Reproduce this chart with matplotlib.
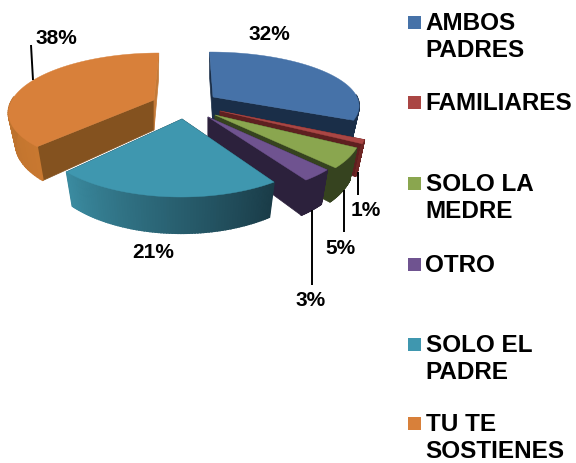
import numpy as np
import matplotlib
matplotlib.use("Agg")
import matplotlib.pyplot as plt
from matplotlib.patches import Polygon, Rectangle
from matplotlib.colors import to_rgb

plt.rcParams['font.family'] = ['Liberation Sans', 'DejaVu Sans']

# --- data ---
categories = ["AMBOS\nPADRES", "FAMILIARES", "SOLO LA\nMEDRE", "OTRO", "SOLO EL\nPADRE", "TU TE\nSOSTIENES"]
values = [32, 1, 5, 3, 21, 38]

# --- style ---
top_colors = ["#4672A8", "#AA4644", "#8AA64F", "#6F5390", "#3F97AF", "#D8803A"]
radial_start = ["#1A2E48", "#5E2020", "#36431F", "#2C213C", "#1A3C48", "#84521F"]
radial_end = ["#1A2E48", "#5E2020", "#36431F", "#2C213C", "#1A3C48", "#C47A38"]
outer_start = ["#1A2E48", "#6E2624", "#36431F", "#2C213C", "#1A3C48", "#C87830"]
outer_end = ["#1A2E48", "#6E2624", "#36431F", "#2C213C", "#3A8A9F", "#A26428"]

# --- layout (pixels): where each exploded slice's apex lands, and its perspective extents ---
apex = [(213, 97), (220, 111), (215, 115), (208, 117), (182, 119), (154, 100)]
radius_x = [144, 141, 141, 141, 141, 142]
back_y = [45, 50, 50, 50, 50, 47]
front_y = [60, 78, 78, 78, 78, 68]
vanish_x = 185
draw_order = [5, 0, 1, 2, 3, 4]

fig = plt.figure(figsize=(5.76, 4.63), dpi=100)
ax = fig.add_axes([0, 0, 1, 1])
ax.set_xlim(0, 576)
ax.set_ylim(463, 0)
ax.axis('off')


def project(i, theta):
    """Top-face screen position for pie angle theta (degrees clockwise from 12 o'clock)."""
    t = np.radians(theta)
    u, v = np.sin(t), np.cos(t)
    b, f = back_y[i], front_y[i]
    k = (f - b) / (f + b)
    ry = b * (1 + k)
    w = 1 + k * v
    off = apex[i][0] - vanish_x
    return vanish_x + (off + radius_x[i] * u) / w, apex[i][1] - ry * v / w


def drop(i, x, y):
    """Matching point on the underside of the slice."""
    ax0, ay0 = apex[i]
    return ax0 + 0.95 * (x - ax0), y + 30 + 0.08 * (y - ay0)


def mix(c1, c2, a):
    c1, c2 = np.array(to_rgb(c1)), np.array(to_rgb(c2))
    return tuple(c1 + (c2 - c1) * a)


edges = np.cumsum([0] + values) / sum(values) * 360.0

for i in draw_order:
    a0, a1 = edges[i], edges[i + 1]
    ths = np.linspace(a0, a1, 80)
    xs, ys = project(i, ths)
    ax0, ay0 = apex[i]
    axb, ayb = drop(i, ax0, ay0)
    # radial walls
    for x, y, c in ((xs[0], ys[0], radial_start[i]), (xs[-1], ys[-1], radial_end[i])):
        xb, yb = drop(i, x, y)
        ax.add_patch(Polygon([(ax0, ay0), (x, y), (xb, yb), (axb, ayb)],
                             closed=True, fc=c, ec=c, lw=0.5))
    # outer wall, shaded along the arc
    for j in range(len(ths) - 1):
        if np.cos(np.radians(ths[j])) > 0.05:
            continue
        col = mix(outer_start[i], outer_end[i], j / (len(ths) - 2))
        x0b, y0b = drop(i, xs[j], ys[j])
        x1b, y1b = drop(i, xs[j + 1], ys[j + 1])
        ax.add_patch(Polygon([(xs[j], ys[j]), (xs[j + 1], ys[j + 1]), (x1b, y1b), (x0b, y0b)],
                             closed=True, fc=col, ec=col, lw=1.2))
    # top face
    ax.add_patch(Polygon(list(zip(np.r_[ax0, xs], np.r_[ay0, ys])), closed=True,
                         fc=top_colors[i], ec=top_colors[i], lw=0.3))

# leader lines
leaders = [((31, 45), (33, 80)), ((358, 172), (358, 195)), ((344, 190), (344, 232)), ((312, 210), (312, 285))]
for p, q in leaders:
    ax.plot([p[0], q[0]], [p[1], q[1]], color='black', lw=1.4, solid_capstyle='butt')

# value labels
label_pos = [(269, 35), (366, 210), (340, 248), (311, 301), (153, 252), (56, 39)]
for v, (x, y) in zip(values, label_pos):
    ax.text(x, y, f"{v}%", ha='center', va='center', fontsize=15, fontweight='bold', color='black')

# legend
legend_top = [16, 96, 177, 258, 338, 417]
for name, col, y in zip(categories, top_colors, legend_top):
    ax.add_patch(Rectangle((408, y), 13, 13, fc=col, ec='none'))
    ax.text(425.5, y - 4, name, ha='left', va='top', fontsize=17.5, fontweight='bold',
            color='black', linespacing=1.2)

fig.savefig("out.png", dpi=100, facecolor='white')
